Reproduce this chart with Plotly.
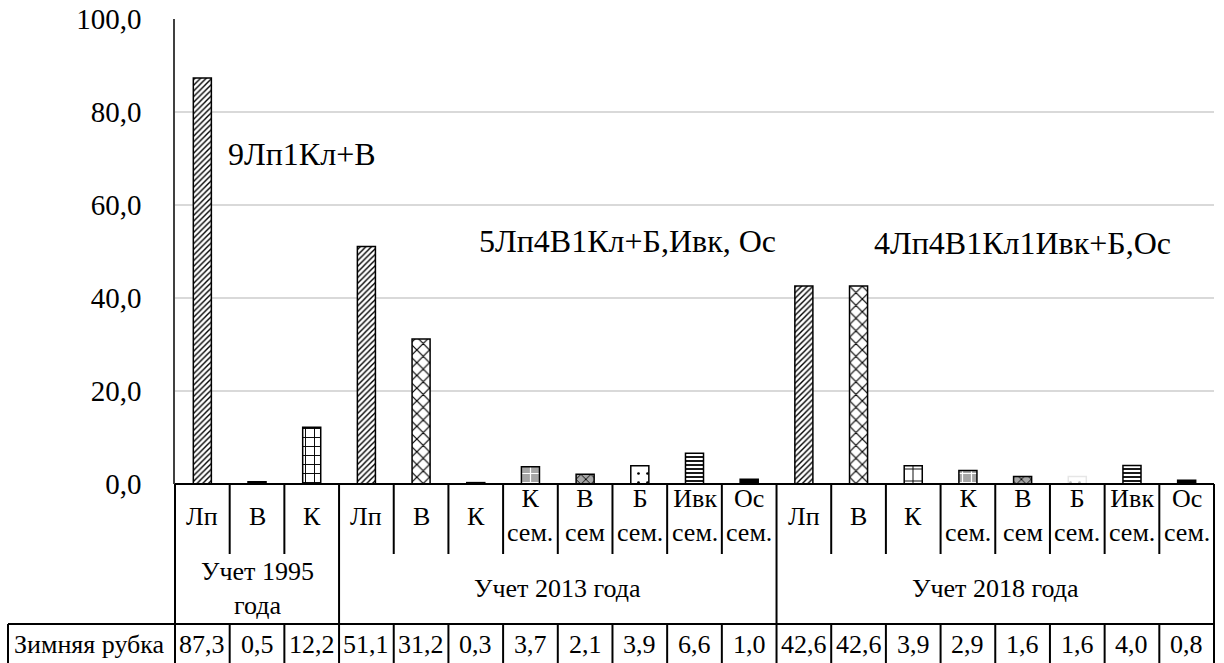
import plotly.graph_objects as go

# Species labels under each bar (two-line labels use <br>)
species = ["Лп", "В", "К",
           "Лп", "В", "К", "К<br>сем.", "В<br>сем", "Б<br>сем.", "Ивк<br>сем.", "Ос<br>сем.",
           "Лп", "В", "К", "К<br>сем.", "В<br>сем", "Б<br>сем.", "Ивк<br>сем.", "Ос<br>сем."]
# Survey groups: (label, number of species in the group)
groups = [("Учет 1995<br>года", 3), ("Учет 2013 года", 8), ("Учет 2018 года", 8)]
# Winter felling share, %
values = [87.3, 0.5, 12.2,
          51.1, 31.2, 0.3, 3.7, 2.1, 3.9, 6.6, 1.0,
          42.6, 42.6, 3.9, 2.9, 1.6, 1.6, 4.0, 0.8]
row_title = "Зимняя рубка"
compositions = ["9Лп1Кл+В", "5Лп4В1Кл+Б,Ивк, Ос", "4Лп4В1Кл1Ивк+Б,Ос"]
y_ticks = [0, 20, 40, 60, 80, 100]

# Per-bar fill styles
GRAY = "#a6a6a6"
shape_ = ["/", "", "+",
          "/", "x", "", "+", "x", ".", "-", "",
          "/", "x", "+", "+", "x", ".", "-", ""]
bg = ["white", "black", "white",
      "white", "white", "black", GRAY, GRAY, "white", "white", "black",
      "white", "white", "white", GRAY, GRAY, "white", "white", "black"]
fg = ["black", "black", "black",
      "black", "black", "black", "white", "black", "black", "black", "black",
      "black", "black", "black", "white", "black", "#bbbbbb", "black", "black"]
psize = [4, 6, 9,
         4, 9, 6, 9, 7, 9, 4, 6,
         4, 9, 12, 9, 7, 9, 4, 6]
solid = [0.35, 0.3, 0.2,
         0.35, 0.25, 0.3, 0.25, 0.25, 0.07, 0.45, 0.3,
         0.35, 0.25, 0.15, 0.25, 0.25, 0.07, 0.45, 0.3]
lcol = ["black"] * 19
lcol[16] = "#e6e6e6"

n = len(values)

W, H = 1224, 663
L, R, T, B = 175, 10, 19, 179
plot_h = H - T - B
plot_w = W - L - R


def py(y_px):
    """Pixel row -> paper y."""
    return (H - B - y_px) / plot_h


def px(x_px):
    """Pixel column -> paper x."""
    return (x_px - L) / plot_w


def xpaper(xd):
    """Category coordinate -> paper x."""
    return (xd + 0.5) / n


fig = go.Figure()
for i in range(n):
    pat = dict(shape=shape_[i], bgcolor=bg[i], fgcolor=fg[i], size=psize[i],
               solidity=solid[i], fillmode="replace") if shape_[i] else None
    fig.add_trace(go.Bar(
        x=[i], y=[values[i]], width=0.33,
        marker=dict(color=bg[i], line=dict(color=lcol[i], width=1.5), pattern=pat),
        hoverinfo="y", showlegend=False,
    ))

FONT = "Liberation Serif"
TXT = dict(size=26, family=FONT, color="black")
ann = []
shapes = []
LW = 2

y_row_top = H - B          # 484
y_row_mid = 554
y_row_data = 624
y_bottom = 663


def label(x, y, text, xref="x", font=TXT):
    ann.append(dict(x=x, y=y, xref=xref, yref="paper", text=text, showarrow=False,
                    font=font, xanchor="center", yanchor="middle"))


# Species label row and value row
for i, s in enumerate(species):
    label(i, py(515 if "<br>" in s else 516), s)
    label(i, py(644), f"{values[i]:.1f}".replace(".", ","))

# Group labels and separators
start = 0
boundaries = []
for text, cnt in groups:
    mid = start + (cnt - 1) / 2
    label(mid, py(588), text)
    start += cnt
    boundaries.append(start - 0.5)

line = dict(color="black", width=LW)
for i in range(n - 1):
    xb = xpaper(i + 0.5)
    if (i + 0.5) in boundaries:
        shapes.append(dict(type="line", xref="paper", yref="paper", x0=xb, x1=xb,
                           y0=py(y_row_top), y1=py(y_bottom), line=line))
    else:
        shapes.append(dict(type="line", xref="paper", yref="paper", x0=xb, x1=xb,
                           y0=py(y_row_top), y1=py(y_row_mid), line=line))
        shapes.append(dict(type="line", xref="paper", yref="paper", x0=xb, x1=xb,
                           y0=py(y_row_data), y1=py(y_bottom), line=line))

# Outer table borders
for xb in (0, 1):
    shapes.append(dict(type="line", xref="paper", yref="paper", x0=xb, x1=xb,
                       y0=py(y_row_top), y1=py(y_bottom), line=line))
shapes.append(dict(type="line", xref="paper", yref="paper", x0=px(8), x1=1,
                   y0=py(y_row_data), y1=py(y_row_data), line=line))
shapes.append(dict(type="line", xref="paper", yref="paper", x0=px(8), x1=px(8),
                   y0=py(y_row_data), y1=py(y_bottom), line=line))
shapes.append(dict(type="line", xref="paper", yref="paper", x0=0, x1=1,
                   y0=0, y1=0, line=line))

# Row title
label(px(89), py(644), row_title, xref="paper")

# Stand composition labels
comp_pos = [(1.82, 71.0), (7.77, 52.3), (15.0, 51.9)]
for txt, (cx, cy) in zip(compositions, comp_pos):
    ann.append(dict(x=cx, y=cy, xref="x", yref="y", text=txt, showarrow=False,
                    font=dict(size=32, family=FONT, color="black"),
                    xanchor="center", yanchor="middle"))

fig.update_layout(
    width=W, height=H,
    margin=dict(l=L, r=R, t=T, b=B, pad=0, autoexpand=False),
    plot_bgcolor="white", paper_bgcolor="white",
    separators=", ",
    barmode="overlay",
    annotations=ann, shapes=shapes,
    font=dict(family=FONT, color="black"),
)
fig.update_xaxes(range=[-0.5, n - 0.5], showticklabels=False, showgrid=False,
                 zeroline=False, showline=False, ticks="", automargin=False)
fig.update_yaxes(range=[0, 100], tickvals=y_ticks, tickformat=".1f",
                 showgrid=True, gridcolor="#d9d9d9", gridwidth=1.5,
                 zeroline=False, showline=True, linecolor="#404040", linewidth=1.5,
                 ticks="", ticklabelstandoff=26, automargin=False,
                 tickfont=dict(size=29, family=FONT, color="black"))

fig.write_html("out.html")
